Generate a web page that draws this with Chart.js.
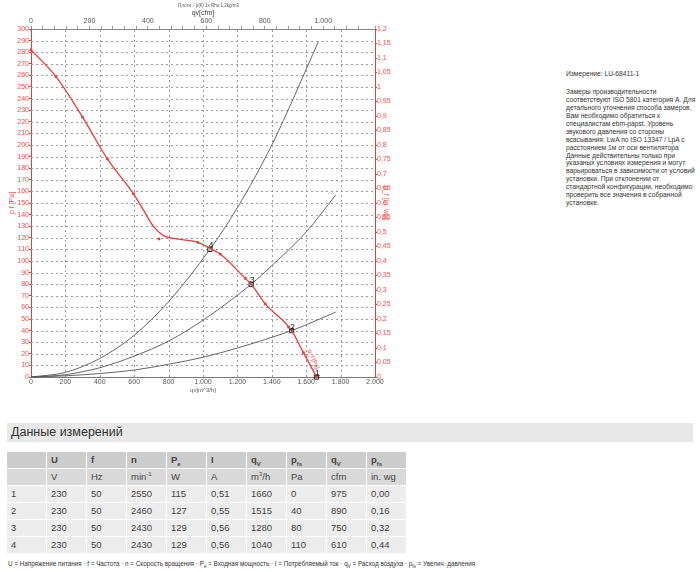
<!DOCTYPE html>
<html>
<head>
<meta charset="utf-8">
<script src="https://cdn.jsdelivr.net/npm/chart.js@4.4.0/dist/chart.umd.min.js"></script>
<style>
  body { margin: 0; width: 700px; height: 572px; position: relative; overflow: hidden; background: #fff;
         font-family: "Liberation Sans", Arial, sans-serif; color: #333; }
  #chartBox { position: absolute; left: 0; top: 0; width: 400px; height: 400px; }
  #topNote { position: absolute; left: 178px; top: 3px; font-size: 4.5px; color: #555; white-space: nowrap; }
  #info { position: absolute; left: 566px; top: 70px; font-size: 6.7px; line-height: 7.9px; color: #333; white-space: nowrap; }
  #info .txt { margin-top: 10.4px; }
  #secTitle { position: absolute; left: 7px; top: 423px; width: 682px; height: 19px; line-height: 19px;
              background: #e8e8e8; font-size: 12.5px; padding-left: 4px; color: #333; }
  #meas { position: absolute; left: 6px; top: 451px; border-collapse: separate; border-spacing: 1px; }
  #meas td { width: 35px; height: 16px; padding: 0 0 0 4px; font-size: 9.5px; line-height: 16px;
             color: #444; background: #ededed; vertical-align: middle; white-space: nowrap; }
  #meas tr.h1 td { background: #cdcdcd; font-weight: bold; }
  #meas tr.h2 td { background: #d9d9d9; }
  #meas sub, #meas sup { font-size: 6px; line-height: 0; }
  #legendNote { position: absolute; left: 8px; top: 560px; font-size: 6.3px; color: #333; white-space: nowrap; }
  #legendNote sub { font-size: 4.5px; }
</style>
</head>
<body>
<div id="chartBox"><canvas id="fanChart"></canvas></div>
<div id="topNote">Плотн. / ρ(fl) 1x Rho 1,2kg/m3</div>

<div id="info">
  <div>Измерение: LU-68411-1</div>
  <div class="txt">Замеры производительности<br>соответствуют ISO 5801 категория A. Для<br>детального уточнения способа замеров,<br>Вам необходимо обратиться к<br>специалистам ebm-papst. Уровень<br>звукового давления со стороны<br>всасывания: LwA по ISO 13347 / LpA с<br>расстоянием 1м от оси вентилятора<br>Данные действительны только при<br>указаных условиях измерения и могут<br>варьироваться в зависимости от условий<br>установки. При отклонении от<br>стандартной конфигурации, необходимо<br>проверить все значения в собранной<br>установке.</div>
</div>

<div id="secTitle">Данные измерений</div>
<table id="meas"></table>
<div id="legendNote">U = Напряжение питания · f = Частота · n = Скорость вращения · P<sub>e</sub> = Входная мощность · I = Потребляемый ток · q<sub>V</sub> = Расход воздуха · p<sub>fs</sub> = Увелич. давления</div>

<script>
// fan curve p_f over q_v (m3/h -> Pa)
const curveQ = [0, 145, 300, 444, 595, 653, 711, 769, 847, 970, 1040, 1100, 1246, 1280, 1362, 1515, 1584, 1660];
const curveP = [282, 259, 224, 188, 158, 144, 130, 122, 119, 116, 111, 106, 85, 80, 63, 40, 21, 0];

// measured points (small red squares)
const measQ = [0, 145, 300, 444, 595, 744, 970, 1100, 1246, 1362, 1497, 1584, 1660];
const measP = [282, 259, 224, 188, 158, 119, 116, 106, 85, 63, 43, 21, 0];

// operating points 1..4
const opNames = ["1", "2", "3", "4"];
const opQ = [1660, 1515, 1280, 1040];
const opP = [0, 40, 80, 110];

// system curves through the operating points
const sys4Q = [0, 200, 400, 600, 800, 1040, 1200, 1400, 1671];
const sys4P = [0, 4, 16, 36, 65, 110, 146, 200, 289];
const sys3Q = [0, 200, 400, 600, 800, 1000, 1280, 1400, 1600, 1772];
const sys3P = [0, 2, 8, 18, 31, 49, 80, 96, 125, 157];
const sys2Q = [0, 200, 400, 600, 800, 1000, 1200, 1515, 1600, 1772];
const sys2P = [0, 1, 3, 6, 11, 17, 25, 40, 45, 56];

// table
const colHead = ["", "U", "f", "n", "P<sub>e</sub>", "I", "q<sub>V</sub>", "p<sub>fs</sub>", "q<sub>V</sub>", "p<sub>fs</sub>"];
const colUnit = ["", "V", "Hz", "min<sup>-1</sup>", "W", "A", "m<sup>3</sup>/h", "Pa", "cfm", "in. wg"];
const rowU = ["230", "230", "230", "230"];
const rowF = ["50", "50", "50", "50"];
const rowN = ["2550", "2460", "2430", "2430"];
const rowPe = ["115", "127", "129", "129"];
const rowI = ["0,51", "0,55", "0,56", "0,56"];
const rowQv = ["1660", "1515", "1280", "1040"];
const rowPfs = ["0", "40", "80", "110"];
const rowCfm = ["975", "890", "750", "610"];
const rowInwg = ["0,00", "0,16", "0,32", "0,44"];

const RED = "#ec3a34";
const RED_TXT = "#ff4a4a";
const GRID = "#9a9a9a";
const FONT = "'Liberation Sans', Arial, sans-serif";

const pts = (qs, ps) => qs.map((q, i) => ({ x: q, y: ps[i] }));
const thousands = (v) => v >= 1000 ? Math.floor(v / 1000) + "." + String(v % 1000).padStart(3, "0") : String(v);

// build table
let html = "<tr class='h1'>" + colHead.map((c) => "<td>" + c + "</td>").join("") + "</tr>";
html += "<tr class='h2'>" + colUnit.map((c) => "<td>" + c + "</td>").join("") + "</tr>";
for (let i = 0; i < rowU.length; i++) {
  const cells = [String(i + 1), rowU[i], rowF[i], rowN[i], rowPe[i], rowI[i], rowQv[i], rowPfs[i], rowCfm[i], rowInwg[i]];
  html += "<tr>" + cells.map((c) => "<td>" + c + "</td>").join("") + "</tr>";
}
document.getElementById("meas").innerHTML = html;

const sysStyle = { borderColor: "#555", borderWidth: 0.9, pointRadius: 0, cubicInterpolationMode: "monotone", clip: false };

// dotted grid taken from the ticks of the bottom and left scales
const dashGrid = {
  id: "dashGrid",
  beforeDatasetsDraw(chart) {
    const { ctx, chartArea: a, scales: { x, y } } = chart;
    ctx.save();
    ctx.strokeStyle = GRID;
    ctx.lineWidth = 1;
    ctx.setLineDash([2, 3]);
    x.ticks.forEach((t) => {
      if (t.value <= x.min || t.value >= x.max) return;
      const px = Math.round(x.getPixelForValue(t.value)) + 0.5;
      ctx.beginPath();
      ctx.moveTo(px, a.bottom);
      ctx.lineTo(px, a.top);
      ctx.stroke();
    });
    y.ticks.forEach((t) => {
      if (t.value <= y.min || t.value >= y.max) return;
      const py = Math.round(y.getPixelForValue(t.value)) + 0.5;
      ctx.beginPath();
      ctx.moveTo(a.left, py);
      ctx.lineTo(a.right, py);
      ctx.stroke();
    });
    ctx.restore();
  },
};

const labelsPlugin = {
  id: "labelsPlugin",
  afterDatasetsDraw(chart) {
    const { ctx, scales: { x, y } } = chart;
    ctx.save();
    ctx.font = "9px " + FONT;
    ctx.fillStyle = "#222";
    ctx.textAlign = "center";
    ctx.textBaseline = "alphabetic";
    opQ.forEach((q, i) => {
      ctx.fillText(opNames[i], x.getPixelForValue(q) + 1, y.getPixelForValue(opP[i]) - 1);
    });
    // curve name along the end of the fan curve
    const px = x.getPixelForValue(curveQ[16]) + 4;
    const py = y.getPixelForValue(curveP[16]) - 2;
    ctx.translate(px, py);
    ctx.rotate(1.15);
    ctx.font = "6px " + FONT;
    ctx.fillStyle = RED;
    ctx.textAlign = "left";
    ctx.fillText("p_f [Pa]", 0, 0);
    ctx.restore();
  },
};

new Chart(document.getElementById("fanChart"), {
  type: "line",
  data: {
    datasets: [
      { data: pts(sys4Q, sys4P), ...sysStyle },
      { data: pts(sys3Q, sys3P), ...sysStyle },
      { data: pts(sys2Q, sys2P), ...sysStyle },
      { data: pts(curveQ, curveP), borderColor: RED, borderWidth: 1.3, pointRadius: 0, cubicInterpolationMode: "monotone", clip: false },
      { data: pts(measQ, measP), showLine: false, pointStyle: "rect", pointRadius: 1.8, pointBackgroundColor: RED, pointBorderColor: RED, pointBorderWidth: 0, clip: false },
      { data: pts(opQ, opP), showLine: false, pointStyle: "rect", pointRadius: 3, pointBackgroundColor: "rgba(255,255,255,0)", pointBorderColor: "#222", pointBorderWidth: 1, clip: false },
    ],
  },
  options: {
    responsive: true,
    maintainAspectRatio: false,
    animation: false,
    layout: { padding: 0, autoPadding: false },
    plugins: { legend: { display: false }, tooltip: { enabled: false } },
    scales: {
      x: {
        type: "linear",
        position: "bottom",
        min: 0,
        max: 2000,
        afterFit: (s) => { s.height = 23; },
        ticks: { stepSize: 200, autoSkip: false, maxRotation: 0, padding: 1, color: "#555", font: { size: 7, family: FONT }, callback: (v) => thousands(v) },
        grid: { drawOnChartArea: false, drawTicks: false },
        border: { color: "#777" },
        title: { display: true, text: "qv[m^3/h]", color: "#555", font: { size: 6, family: FONT }, padding: { top: 0, bottom: 6 } },
      },
      xTop: {
        type: "linear",
        position: "top",
        min: 0,
        max: 1177,
        afterFit: (s) => { s.height = 29; },
        ticks: { stepSize: 40, autoSkip: false, maxRotation: 0, padding: 1, color: "#555", font: { size: 7, family: FONT }, callback: (v) => (v % 200 === 0 ? thousands(v) : "") },
        grid: { drawOnChartArea: false, tickLength: 3, color: "#999" },
        border: { color: "#888" },
        title: { display: true, text: "qv[cfm]", color: "#444", font: { size: 7, family: FONT }, padding: { top: 9, bottom: 0 } },
      },
      y: {
        position: "left",
        min: 0,
        max: 300,
        afterFit: (s) => { s.width = 31; },
        ticks: { stepSize: 10, autoSkip: false, padding: 0, color: RED_TXT, font: { size: 7, family: FONT } },
        grid: { drawOnChartArea: false, tickColor: RED, tickLength: 2 },
        border: { color: RED },
        title: { display: true, text: "p f [Pa]", color: RED_TXT, font: { size: 7, family: FONT }, padding: { top: 8, bottom: 0 } },
      },
      yRight: {
        position: "right",
        min: 0,
        max: 1.2,
        afterFit: (s) => { s.width = 25; },
        ticks: { stepSize: 0.05, autoSkip: false, padding: 0, color: RED_TXT, font: { size: 7, family: FONT },
                 callback: (v) => String(Math.round(v * 100) / 100).replace(".", ",") },
        grid: { drawOnChartArea: false, tickColor: RED, tickLength: 2 },
        border: { color: RED },
        title: { display: true, text: "p_f [in. wg]", color: RED_TXT, font: { size: 7, family: FONT }, padding: { top: 10, bottom: 0 } },
      },
    },
  },
  plugins: [dashGrid, labelsPlugin],
});
</script>
</body>
</html>
